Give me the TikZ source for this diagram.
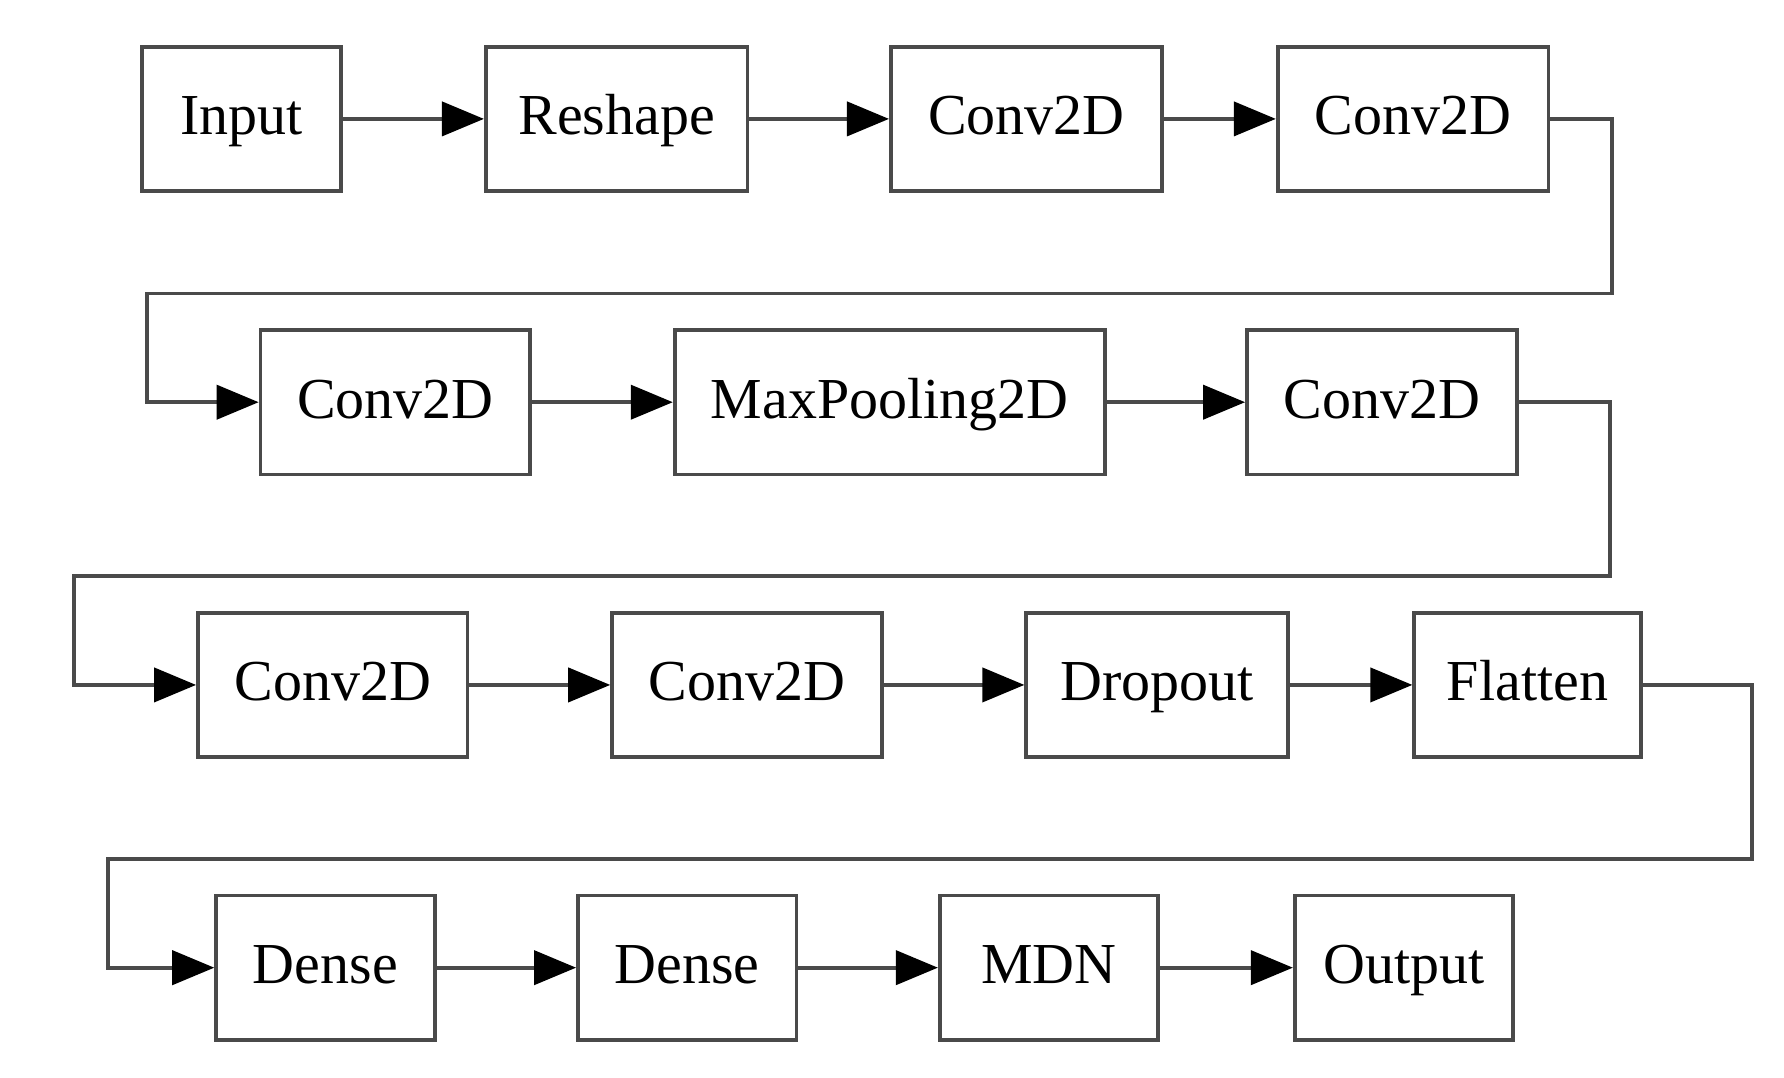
\documentclass[tikz,border=0pt]{standalone}
\usepackage{fontspec}
\setmainfont{Liberation Serif}
\usetikzlibrary{arrows.meta}
\definecolor{linegray}{HTML}{4A4A4A}
\begin{document}
\begin{tikzpicture}[x=0.02cm,y=-0.02cm,
  box/.style={draw=linegray, line width=1.9pt, rectangle, minimum height=2.54cm, inner sep=0pt, text height=20pt, text depth=4pt, font=\fontsize{29}{34}\selectfont},
  conn/.style={draw=linegray, line width=1.9pt, -{Triangle[length=0.74cm,width=0.6cm,fill=black,color=black]}}]
\useasboundingbox (0,0) rectangle (1568,947);
% row 1
\node[box, minimum width=3.5cm] (inp) at (212.5,104.5) {Input};
\node[box, minimum width=4.6cm] (resh) at (542,104.5) {Reshape};
\node[box, minimum width=4.76cm] (ca) at (902,104.5) {Conv2D};
\node[box, minimum width=4.76cm] (cb) at (1242,104.5) {Conv2D};
% row 2
\node[box, minimum width=4.74cm] (cc) at (347.5,353.5) {Conv2D};
\node[box, minimum width=7.56cm] (mp) at (782,353.5) {MaxPooling2D};
\node[box, minimum width=4.74cm] (cd) at (1214.5,353.5) {Conv2D};
% row 3
\node[box, minimum width=4.74cm] (ce) at (292.5,602) {Conv2D};
\node[box, minimum width=4.74cm] (cf) at (656.5,602) {Conv2D};
\node[box, minimum width=4.6cm] (drop) at (1017,602) {Dropout};
\node[box, minimum width=3.98cm] (flat) at (1342.5,602) {Flatten};
% row 4
\node[box, minimum width=3.84cm] (da) at (286,850.5) {Dense};
\node[box, minimum width=3.84cm] (db) at (604,850.5) {Dense};
\node[box, minimum width=3.84cm] (mdn) at (922,850.5) {MDN};
\node[box, minimum width=3.84cm] (out) at (1234,850.5) {Output};
% route coordinates
\coordinate (t1) at (1417,258);
\coordinate (u1) at (129,258);
\coordinate (t2) at (1415,506);
\coordinate (u2) at (65,506);
\coordinate (t3) at (1540,755);
\coordinate (u3) at (95,755);
% connectors
\draw[conn] (inp) -- (resh);
\draw[conn] (resh) -- (ca);
\draw[conn] (ca) -- (cb);
\draw[conn] (cb.east) -| (t1) -- (u1) |- (cc.west);
\draw[conn] (cc) -- (mp);
\draw[conn] (mp) -- (cd);
\draw[conn] (cd.east) -| (t2) -- (u2) |- (ce.west);
\draw[conn] (ce) -- (cf);
\draw[conn] (cf) -- (drop);
\draw[conn] (drop) -- (flat);
\draw[conn] (flat.east) -| (t3) -- (u3) |- (da.west);
\draw[conn] (da) -- (db);
\draw[conn] (db) -- (mdn);
\draw[conn] (mdn) -- (out);
\end{tikzpicture}
\end{document}
